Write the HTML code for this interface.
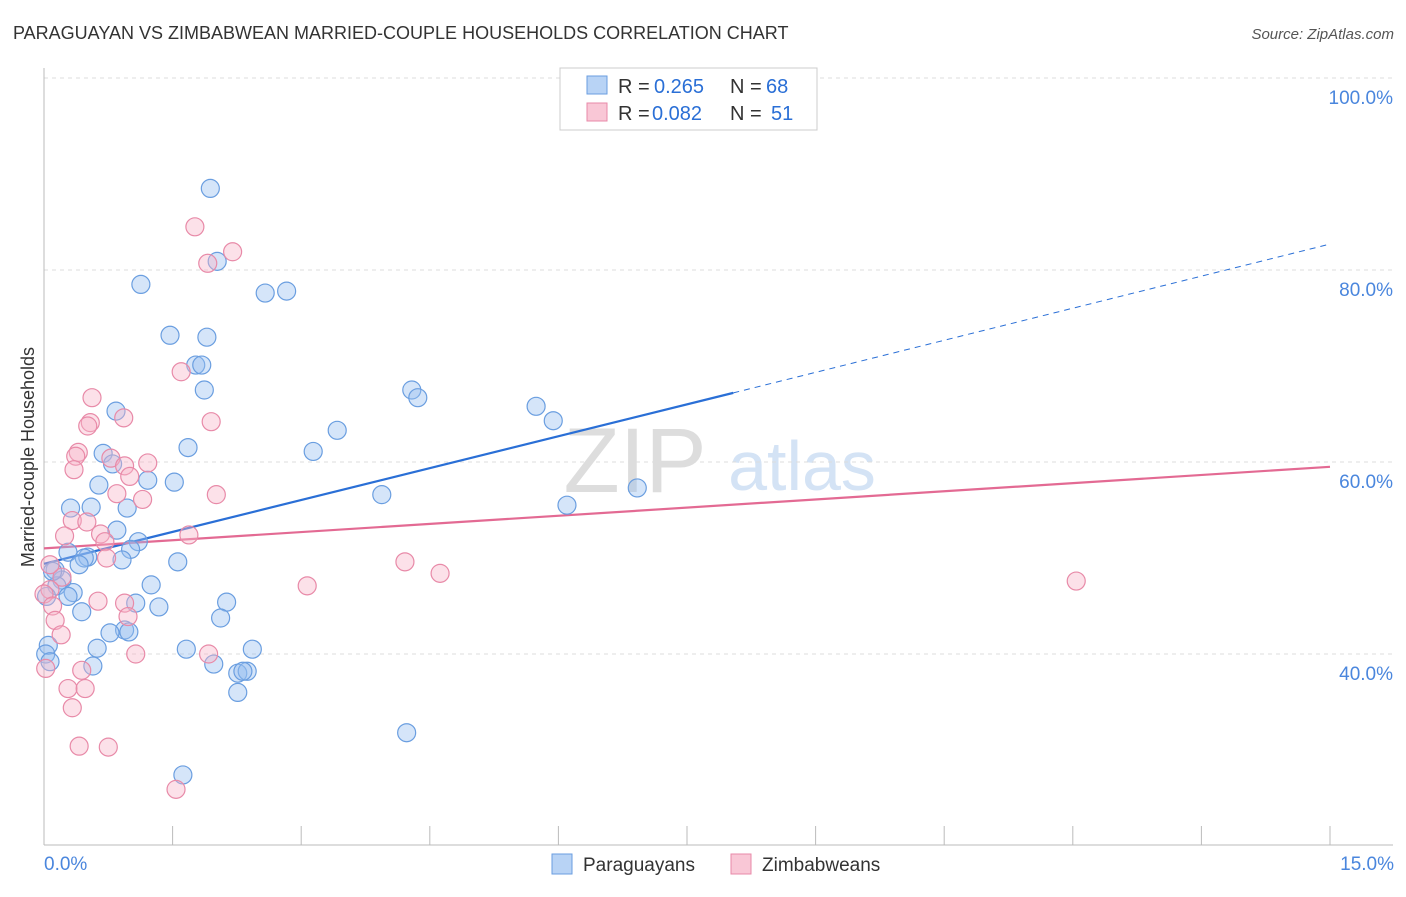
<!DOCTYPE html>
<html><head><meta charset="utf-8"><style>
body{margin:0;background:#fff;font-family:"Liberation Sans",sans-serif;}
svg text{font-family:"Liberation Sans",sans-serif;}
</style></head><body>
<svg id="chart" width="1406" height="892" xmlns="http://www.w3.org/2000/svg">
<text x="13" y="39" font-size="18" fill="#333">PARAGUAYAN VS ZIMBABWEAN MARRIED-COUPLE HOUSEHOLDS CORRELATION CHART</text>
<text x="1394" y="39" font-size="15" fill="#555" text-anchor="end" font-style="italic">Source: ZipAtlas.com</text>
<g>
<text x="635" y="492" font-size="92" fill="#ddd" text-anchor="middle" font-family="Liberation Serif">ZIP</text>
<text x="802" y="490" font-size="70" fill="#d4e3f5" text-anchor="middle">atlas</text>
</g>
<g id="grid"></g>
<g id="axes"></g>
<g id="lines"></g>
<g id="points"></g>
<text transform="translate(34,457) rotate(-90)" font-size="18" fill="#333" text-anchor="middle">Married-couple Households</text>
<g>
<rect x="560" y="68" width="257" height="62" fill="#fff" stroke="#ccc"/>
<rect x="587" y="76" width="20" height="18" fill="#b8d3f5" stroke="#6a9ee0"/>
<rect x="587" y="103" width="20" height="18" fill="#f9c7d6" stroke="#e88aa8"/>
<text x="618" y="93" font-size="20" fill="#333">R =</text>
<text x="654" y="93" font-size="20" fill="#2a6fd6">0.265</text>
<text x="730" y="93" font-size="20" fill="#333">N =</text>
<text x="766" y="93" font-size="20" fill="#2a6fd6">68</text>
<text x="618" y="120" font-size="20" fill="#333">R =</text>
<text x="652" y="120" font-size="20" fill="#2a6fd6">0.082</text>
<text x="730" y="120" font-size="20" fill="#333">N =</text>
<text x="771" y="120" font-size="20" fill="#2a6fd6">51</text>
</g>
<g>
<rect x="552" y="854" width="20" height="20" fill="#b8d3f5" stroke="#6a9ee0"/>
<text x="583" y="871" font-size="19" fill="#333">Paraguayans</text>
<rect x="731" y="854" width="20" height="20" fill="#f9c7d6" stroke="#e88aa8"/>
<text x="762" y="871" font-size="19" fill="#333">Zimbabweans</text>
</g>
</svg>
<script>
const yTicks=[100,80,60,40];
const yTickLabels=["100.0%","80.0%","60.0%","40.0%"];
const xTickLabels=["0.0%","15.0%"];
const blueX=[1.94,1.13,2.58,2.83,2.02,1.47,1.90,1.77,1.84,1.87,0.84,4.29,4.36,5.74,5.94,3.42,3.14,1.68,0.69,0.80,1.21,1.52,0.64,3.94,6.92,6.10,0.31,0.55,0.97,0.85,1.10,1.01,0.28,0.51,0.47,0.91,1.56,0.41,0.13,0.21,0.15,1.25,0.34,0.03,0.28,0.44,1.07,1.34,2.13,2.06,0.94,0.99,0.77,0.62,1.66,2.43,0.05,0.02,0.57,1.98,2.26,2.37,2.32,2.26,4.23,1.62,0.07,0.10];
const blueY=[88.5,78.5,77.6,77.8,80.9,73.2,73.0,70.1,70.1,67.5,65.3,67.5,66.7,65.8,64.3,63.3,61.1,61.5,60.9,59.8,58.1,57.9,57.6,56.6,57.3,55.5,55.2,55.3,55.2,52.9,51.7,50.9,50.6,50.1,50.0,49.8,49.6,49.3,48.75,47.7,47.1,47.2,46.4,46.0,46.0,44.4,45.3,44.9,45.4,43.75,42.5,42.3,42.2,40.6,40.5,40.5,40.9,40.0,38.75,38.95,38.0,38.2,38.2,36.0,31.8,27.4,39.2,48.6];
const pinkX=[1.76,2.20,1.91,1.60,0.56,0.93,1.95,0.54,0.51,0.40,0.37,0.78,1.21,0.94,0.35,1.00,0.85,2.01,1.15,0.33,0.50,0.24,0.66,1.69,0.71,0.73,4.21,4.62,12.04,0.21,3.07,0.07,0.0,0.10,0.94,0.63,0.13,0.98,0.20,1.07,1.92,0.44,0.02,0.28,0.48,0.33,0.41,0.75,1.54,0.07];
const pinkY=[84.5,81.9,80.7,69.4,66.7,64.6,64.2,64.1,63.75,61.0,60.6,60.4,59.9,59.6,59.2,58.5,56.7,56.6,56.1,53.9,53.75,52.3,52.5,52.4,51.7,50.0,49.6,48.4,47.6,48.0,47.1,46.7,46.25,45.0,45.3,45.5,43.5,43.9,42.0,40.0,40.0,38.3,38.5,36.4,36.4,34.4,30.4,30.3,25.9,49.3];
const blueTrend=[49.4,67.2,82.7];
const blueTrendX=[0,8.04,15];
const pinkTrend=[51.0,59.5];
const NS="http://www.w3.org/2000/svg";
const X=v=>44+v*(1286/15);
const Y=v=>78+(100-v)*9.6;
function mk(tag,attrs,parent){const e=document.createElementNS(NS,tag);for(const k in attrs)e.setAttribute(k,attrs[k]);document.getElementById(parent).appendChild(e);return e;}
yTicks.forEach((t,i)=>{
 const l=mk('line',{x1:44,x2:1393,y1:Y(t),y2:Y(t),stroke:'#ddd','stroke-dasharray':'4,4'},'grid');
 
 
 const tx=mk('text',{x:1393,y:Y(t)+26,'font-size':19,fill:'#4a86dd','text-anchor':'end'},'grid');
 tx.textContent=yTickLabels[i];
 
 
});
let a=mk('line',{x1:44,x2:44,y1:68,y2:845,stroke:'#bbb'},'axes');


a=mk('line',{x1:44,x2:1393,y1:845,y2:845,stroke:'#bbb'},'axes');


for(let i=1;i<=10;i++){const t=mk('line',{x1:X(i*1.5),x2:X(i*1.5),y1:826,y2:845,stroke:'#bbb'},'axes');
 
 }
[[0,'start',44],[15,'end',1394]].forEach((d,i)=>{const t=mk('text',{x:d[2],y:870,'font-size':19,fill:'#4a86dd','text-anchor':d[1]},'axes');t.textContent=xTickLabels[i];
 
 });
function dot(x,y,fill,stroke,name,r){const c=mk('circle',{cx:X(x),cy:Y(y),r:r,fill:fill,stroke:stroke,'stroke-width':1.2},'points');
 
 }
blueX.forEach((x,i)=>dot(x,blueY[i],'rgba(150,190,240,0.4)','#6a9ee0','paraguayan-point',9));
pinkX.forEach((x,i)=>dot(x,pinkY[i],'rgba(248,180,200,0.4)','#e88aa8','zimbabwean-point',9));
let ln=mk('line',{x1:X(blueTrendX[0]),y1:Y(blueTrend[0]),x2:X(blueTrendX[1]),y2:Y(blueTrend[1]),stroke:'#2a6fd6','stroke-width':2.2},'lines');


ln=mk('line',{x1:X(blueTrendX[1]),y1:Y(blueTrend[1]),x2:X(blueTrendX[2]),y2:Y(blueTrend[2]),stroke:'#2a6fd6','stroke-width':1,'stroke-dasharray':'6,5'},'lines');


ln=mk('line',{x1:X(0),y1:Y(pinkTrend[0]),x2:X(15),y2:Y(pinkTrend[1]),stroke:'#e36a93','stroke-width':2.2},'lines');


</script>
</body></html>
